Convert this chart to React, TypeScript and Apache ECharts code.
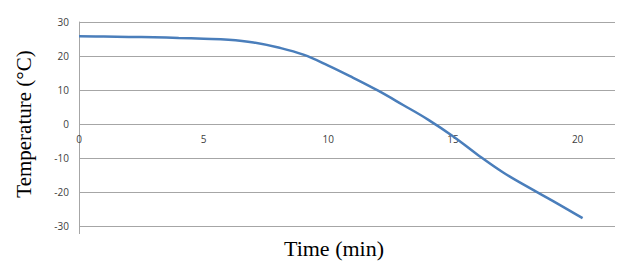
import React, { useEffect, useRef } from "react";
import * as echarts from "echarts";

const times = [0, 1, 2, 3, 4, 5, 6, 7, 8, 9, 10, 11, 12, 13, 14, 15, 16, 17, 18, 19, 20.2];
const temps = [25.8, 25.7, 25.6, 25.5, 25.3, 25.1, 24.8, 24.0, 22.5, 20.4, 17.2, 13.6, 9.8, 5.6, 1.3, -3.6, -9.1, -14.2, -18.5, -22.6, -27.7];
const xTitle = "Time (min)";
const yTitle = "Temperature (°C)";

export default function App() {
  const ref = useRef<HTMLDivElement>(null);
  useEffect(() => {
    if (!ref.current) return;
    const chart = echarts.init(ref.current, null, { renderer: "svg" });
    const data = times.map((t, i) => [t, temps[i]]);
    chart.setOption({
      animation: false,
      backgroundColor: "#ffffff",
      grid: { left: 79, right: 9, top: 22, bottom: 36, containLabel: false },
      xAxis: {
        type: "value",
        min: 0,
        max: 21.5,
        interval: 5,
        offset: -102,
        axisLine: { show: false, onZero: false },
        axisTick: { show: false },
        splitLine: { show: false },
        axisLabel: {
          showMaxLabel: false,
          margin: 10,
          fontFamily: "Open Sans, sans-serif",
          fontSize: 10,
          color: "#404040",
        },
      },
      yAxis: {
        type: "value",
        min: -30,
        max: 30,
        interval: 10,
        axisLine: { show: true, lineStyle: { color: "#a6a6a6", width: 1 } },
        axisTick: { show: false },
        splitLine: { show: true, lineStyle: { color: "#a6a6a6", width: 1 } },
        axisLabel: {
          margin: 10,
          fontFamily: "Open Sans, sans-serif",
          fontSize: 10,
          color: "#404040",
        },
      },
      graphic: [
        {
          type: "line",
          shape: { x1: 79.5, y1: 226, x2: 79.5, y2: 234 },
          style: { stroke: "#a6a6a6", lineWidth: 1 },
        },
        {
          type: "text",
          x: 24,
          y: 124,
          rotation: Math.PI / 2,
          style: {
            text: yTitle,
            fontFamily: "Liberation Serif, serif",
            fontSize: 21,
            fill: "#000",
            textAlign: "center",
            textVerticalAlign: "middle",
          },
        },
        {
          type: "text",
          x: 334,
          y: 248,
          style: {
            text: xTitle,
            fontFamily: "Liberation Serif, serif",
            fontSize: 22,
            fill: "#000",
            textAlign: "center",
            textVerticalAlign: "middle",
          },
        },
      ],
      series: [
        {
          type: "line",
          data,
          smooth: 0.4,
          showSymbol: false,
          lineStyle: { color: "#4a7ebb", width: 2.5 },
        },
      ],
    });
    return () => chart.dispose();
  }, []);
  return <div ref={ref} style={{ width: 624, height: 262, position: "fixed", left: 0, top: 0 }} />;
}
